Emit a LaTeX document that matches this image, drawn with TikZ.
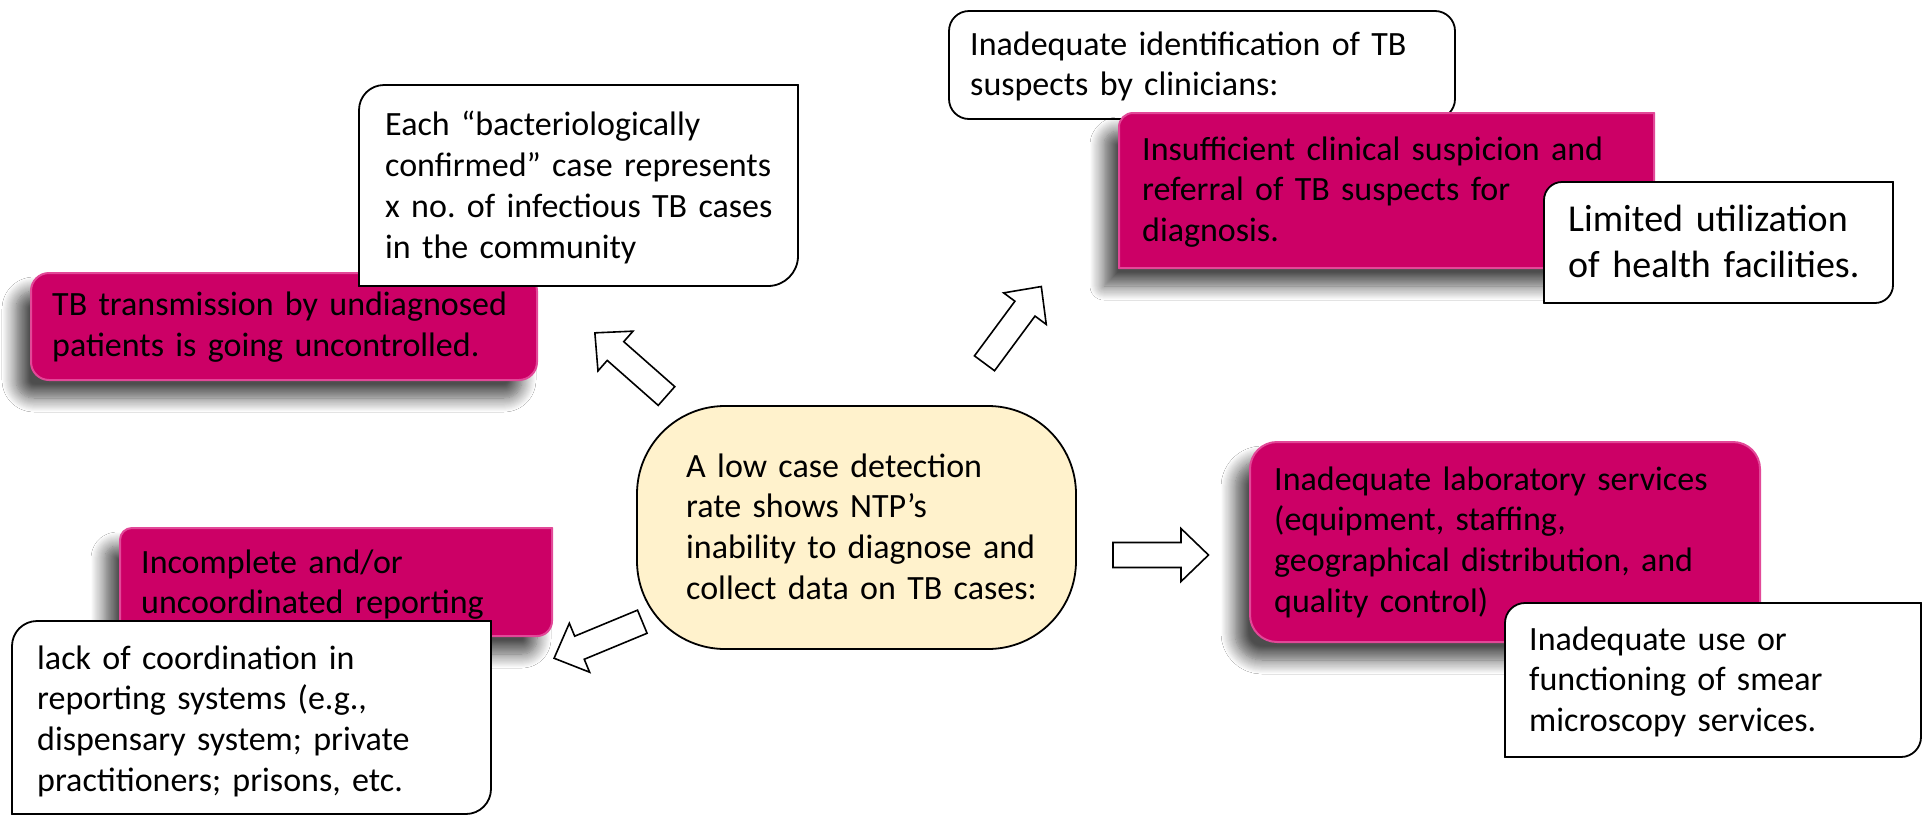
\documentclass[tikz,border=0pt]{standalone}
\usepackage{fontspec}
\setmainfont{Carlito}
\frenchspacing
\usetikzlibrary{shadows.blur}
\definecolor{mag}{RGB}{204,0,102}
\definecolor{magedge}{RGB}{226,72,152}
\definecolor{ylw}{RGB}{255,242,204}
% rectangle L T R B with corner radii TL TR BR BL (y grows downwards)
\newcommand\shapebox[8]{(#1,{#2+#5}) .. controls (#1,{#2+0.448*#5}) and ({#1+0.448*#5},#2) .. ({#1+#5},#2) -- ({#3-#6},#2) .. controls ({#3-0.448*#6},#2) and (#3,{#2+0.448*#6}) .. (#3,{#2+#6}) -- (#3,{#4-#7}) .. controls (#3,{#4-0.448*#7}) and ({#3-0.448*#7},#4) .. ({#3-#7},#4) -- ({#1+#8},#4) .. controls ({#1+0.448*#8},#4) and (#1,{#4-0.448*#8}) .. (#1,{#4-#8}) -- cycle}
\newcommand\blockarrow[2]{\begin{scope}[shift={#1}, rotate=#2]\draw[barrow] (0,-12.5) -- (68,-12.5) -- (68,-26.5) -- (95.5,0) -- (68,26.5) -- (68,12.5) -- (0,12.5) -- cycle;\end{scope}}
\tikzset{
  magfill/.style={fill=mag, draw=magedge, line width=2pt,
    blur shadow={shadow xshift=-15pt, shadow yshift=-18pt, shadow blur radius=14pt, shadow opacity=70, shadow blur steps=14}},
  wfill/.style={fill=white, draw=black, line width=1.8pt},
  yfill/.style={fill=ylw, draw=black, line width=1.8pt},
  txt/.style={anchor=base west, inner sep=0pt, text width=560pt, align=left,
    font=\fontsize{34}{40.8}\selectfont, text=black},
  bigtxt/.style={txt, font=\fontsize{38}{46}\selectfont},
  barrow/.style={draw=black, fill=white, line width=1.6pt, line join=miter},
}
\begin{document}
\begin{tikzpicture}[x=1pt,y=-1pt]
\useasboundingbox (0,0) rectangle (1925,817);
\fill[white] (0,0) rectangle (1925,817);

% top right group
\path[wfill] \shapebox{949}{11}{1455}{119}{20}{20}{20}{20};
\node[txt] (ident) at (970,55) {Inadequate identification of TB\\suspects by clinicians:};
\path[magfill] \shapebox{1119}{113}{1654}{268}{14}{0.01}{0.01}{0.01};
\node[txt] (insuff) at (1142,160) {Insufficient clinical suspicion and\\referral of TB suspects for\\diagnosis.};
\path[wfill] \shapebox{1544}{182}{1893}{303}{18}{0.01}{18}{0.01};
\node[bigtxt] (limited) at (1568,231.7) {Limited utilization\\of health facilities.};

% top left group
\path[magfill] \shapebox{31}{273}{537}{380}{18}{18}{18}{18};
\node[txt] (tbtrans) at (52,315.7) {TB transmission by undiagnosed\\patients is going uncontrolled.};
\path[wfill] \shapebox{359}{85}{798}{286}{25}{0.01}{30}{0.01};
\node[txt] (bact) at (385,135.7) {Each “bacteriologically\\confirmed” case represents\\x no. of infectious TB cases\\in the community};

% bottom left group
\path[magfill] \shapebox{120}{528}{552}{636}{12}{0.01}{15}{12};
\node[txt] (incompl) at (141,573) {Incomplete and/or\\uncoordinated reporting};
\path[wfill] \shapebox{12}{621}{491}{814}{25}{0.01}{25}{0.01};
\node[txt] (lack) at (37,669) {lack of coordination in\\reporting systems (e.g.,\\dispensary system; private\\practitioners; prisons, etc.};

% bottom right group
\path[magfill] \shapebox{1250}{442}{1760}{642}{27}{27}{27}{27};
\node[txt] (lab) at (1274,490) {Inadequate laboratory services\\(equipment, staffing,\\geographical distribution, and\\quality control)};
\path[wfill] \shapebox{1505}{603}{1921}{757}{20}{0.01}{20}{0.01};
\node[txt] (smear) at (1529,650) {Inadequate use or\\functioning of smear\\microscopy services.};

% centre
\path[yfill] \shapebox{637}{406}{1076}{649}{88}{88}{88}{88};
\node[txt] (cdr) at (686,477) {A low case detection\\rate shows NTP’s\\inability to diagnose and\\collect data on TB cases:};

% block arrows
\blockarrow{(666.5,396)}{138.6}
\blockarrow{(984.5,363.3)}{53.5}
\blockarrow{(1113,555)}{0}
\blockarrow{(642.3,621.7)}{202.5}
\end{tikzpicture}
\end{document}
